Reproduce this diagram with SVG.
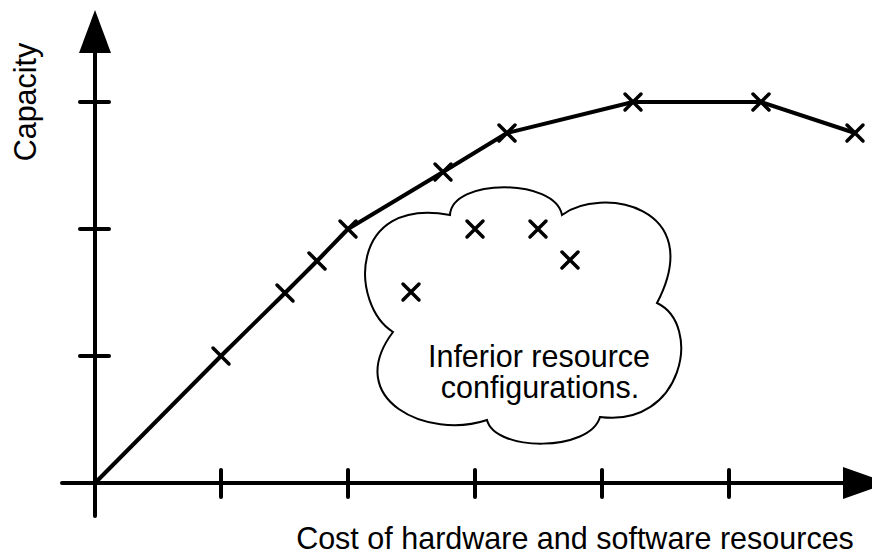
<svg xmlns="http://www.w3.org/2000/svg" xmlns:xlink="http://www.w3.org/1999/xlink" width="872" height="557" viewBox="0 0 872 557">
<style>
.ax{stroke:#000;stroke-width:4;fill:none;stroke-linecap:round}
.curve{stroke:#000;stroke-width:4;fill:none;stroke-linejoin:round}
.mk{stroke:#000;stroke-width:3.5;stroke-linecap:round;fill:none}
.cloud{stroke:#000;stroke-width:2;fill:#fff}
.t{font-family:"Liberation Sans",Arial,sans-serif;font-size:30.5px;fill:#000}
</style>
<defs>
<path id="x" class="mk" d="M-8,-8L8,8M-8,8L8,-8"/>
</defs>
<rect width="872" height="557" fill="#fff"/>
<g id="axes">
<line class="ax" x1="95" y1="516" x2="95" y2="50"/>
<polygon points="95,10 79,53 111,53" fill="#000"/>
<line class="ax" x1="62" y1="483" x2="846" y2="483"/>
<polygon points="888,483 843,467 843,499" fill="#000"/>
<line class="ax" x1="80" y1="102" x2="109" y2="102"/>
<line class="ax" x1="80" y1="229" x2="109" y2="229"/>
<line class="ax" x1="80" y1="356" x2="109" y2="356"/>
<line class="ax" x1="221" y1="470" x2="221" y2="497"/>
<line class="ax" x1="348" y1="470" x2="348" y2="497"/>
<line class="ax" x1="475" y1="470" x2="475" y2="497"/>
<line class="ax" x1="602" y1="470" x2="602" y2="497"/>
<line class="ax" x1="729" y1="470" x2="729" y2="497"/>
</g>
<g id="cloud">
<path class="cloud" d="M393,332 C350,305 348,196 450,215 C452,178 555,178 562,215 C600,186 708,205 657,303 C703,325 683,428 600,417 C590,452 495,452 487,420 C428,440 342,400 393,332 Z"/>
<text class="t" x="539" y="367" text-anchor="middle">Inferior resource</text>
<text class="t" x="540" y="398" text-anchor="middle">configurations.</text>
</g>
<g id="connectors">
<polyline class="curve" points="95,483 221,356 285,293 317,261 348,229 443,172 507,133 633,102 761,102 855,133"/>
</g>
<g id="points">
<use xlink:href="#x" x="221" y="356"/>
<use xlink:href="#x" x="285" y="293"/>
<use xlink:href="#x" x="317" y="261"/>
<use xlink:href="#x" x="348" y="229"/>
<use xlink:href="#x" x="443" y="172"/>
<use xlink:href="#x" x="507" y="133"/>
<use xlink:href="#x" x="633" y="102"/>
<use xlink:href="#x" x="761" y="102"/>
<use xlink:href="#x" x="855" y="133"/>
<use xlink:href="#x" x="411" y="292"/>
<use xlink:href="#x" x="475" y="229"/>
<use xlink:href="#x" x="538" y="229"/>
<use xlink:href="#x" x="570" y="260"/>
</g>
<g id="labels">
<text class="t" x="36" y="102" text-anchor="middle" transform="rotate(-90 36 102)">Capacity</text>
<text class="t" x="575" y="549" text-anchor="middle">Cost of hardware and software resources</text>
</g>
</svg>
